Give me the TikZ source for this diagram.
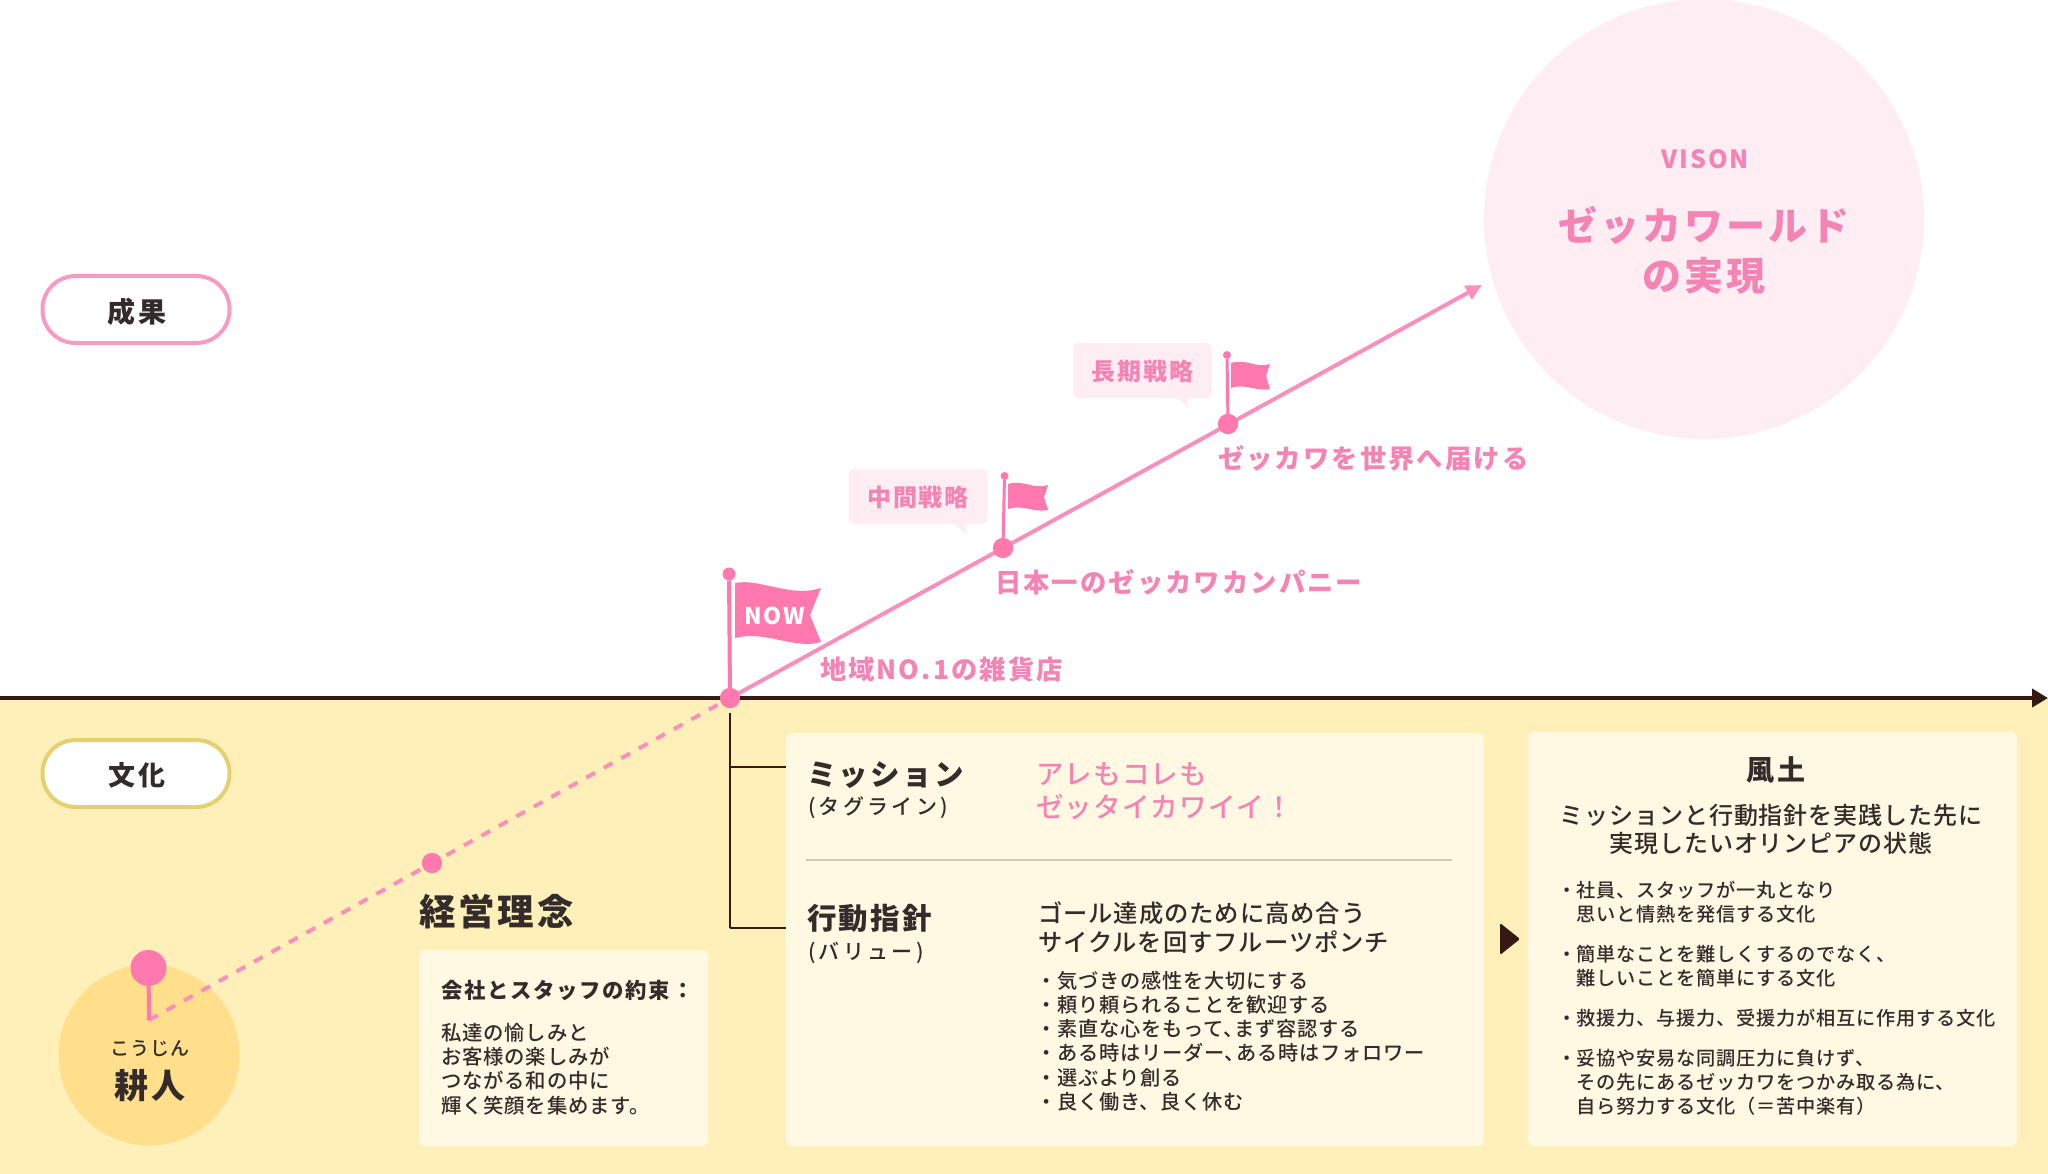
\documentclass[tikz,border=0pt]{standalone}
\usepackage{fontspec}
\usetikzlibrary{arrows.meta}
\newfontfamily\jr[LetterSpace=4]{Noto Sans CJK JP Medium}
\newfontfamily\jb[LetterSpace=8]{Noto Sans CJK JP}
\newfontfamily\jw[LetterSpace=16]{Noto Sans CJK JP Medium}
\newcommand\fs[2]{\fontsize{#1}{#2}\selectfont}
\newcommand\capstrut{\rule{0pt}{.94em}\rule[-.06em]{0pt}{.06em}}
\definecolor{ink}{HTML}{332C2A}
\definecolor{axisc}{HTML}{351A14}
\definecolor{bandc}{HTML}{FFEFB9}
\definecolor{panelc}{HTML}{FFF8E3}
\definecolor{pinkline}{HTML}{F990BC}
\definecolor{pinkdot}{HTML}{FF78AE}
\definecolor{pinktext}{HTML}{F583B3}
\definecolor{pinkpale}{HTML}{FEEDF3}
\definecolor{sunc}{HTML}{FFDF8C}
\definecolor{pillpink}{HTML}{F79BC3}
\definecolor{pillyel}{HTML}{E5D070}
\definecolor{rulec}{HTML}{D0C8B6}
\tikzset{
  tx/.style={inner sep=0pt,outer sep=0pt,anchor=west,text=ink,execute at begin node=\capstrut},
  txc/.style={tx,anchor=center},
  txn/.style={tx,anchor=north west,align=left},
  panel/.style={fill=panelc,rounded corners=6pt,anchor=north west,inner sep=0pt,outer sep=0pt},
  pill/.style={fill=white,draw=#1,line width=4pt,rounded corners=33pt,inner sep=0pt,minimum width=187pt,minimum height=67pt,text=ink},
  dot/.style={circle,fill=pinkdot,inner sep=0pt,outer sep=0pt,minimum size=#1},
  balloon/.style={fill=pinkpale,rounded corners=5pt,inner sep=0pt,outer sep=0pt,minimum width=139pt,minimum height=55pt,text=pinktext},
  pole/.style={draw=pinkdot,line width=3pt},
  main/.style={draw=pinkline,line width=4pt},
  conn/.style={draw=axisc,line width=1.6pt},
}
\begin{document}
\begin{tikzpicture}[x=1pt,y=-1pt]
\useasboundingbox (0,0) rectangle (2048,1174);
\fill[bandc] (0,698) rectangle (2048,1174);
% vision
\node[circle,fill=pinkpale,minimum size=440pt,inner sep=0pt] (vision) at (1704,219) {};
\node[txc,text=pinktext,font=\jb\bfseries\fs{25}{28}] (visont) at (1705,158) {VISON};
\node[txc,text=pinktext,font=\jb\bfseries\fs{39}{50},align=center] (visonm) at (1704,250) {ゼッカワールド\\の実現};
% pills
\node[pill=pillpink,font=\jb\bfseries\fs{28}{30}] (seika) at (136,309.5) {\capstrut\kern2pt\raisebox{-2pt}{成果}};
\node[pill=pillyel,font=\jb\bfseries\fs{27}{30}] (bunka) at (136,773.5) {\capstrut\kern2pt\raisebox{-2pt}{文化}};
% axis
\coordinate (axL) at (0,698);
\coordinate (axR) at (2048,698);
\draw[draw=axisc,line width=4pt,-{Triangle[length=16pt,width=18pt]}] (axL) -- (axR);
% connectors
\coordinate (cTop) at (730,713);
\coordinate (cA) at (730,767);
\coordinate (cB) at (730,928);
% panels
\node[panel,minimum width=289pt,minimum height=196pt] (p1) at (419,950) {};
\node[panel,minimum width=698pt,minimum height=413pt] (p2) at (786,733) {};
\node[panel,minimum width=489pt,minimum height=414pt] (p3) at (1528,732) {};
\draw[conn] (cTop) -- (cB);
\draw[conn] (cA) -- (cA -| p2.west);
\draw[conn] (cB) -- (cB -| p2.west);
\coordinate (divL) at (806,860);
\coordinate (divR) at (1452,860);
\draw[draw=rulec,line width=1.6pt] (divL) -- (divR);
% triangle
\fill[axisc,rounded corners=1.5pt] (1500,923) -- (1520,939) -- (1500,955) -- cycle;
% sun and lines
\node[circle,fill=sunc,minimum size=181pt,inner sep=0pt] (sun) at (149,1055) {};
\coordinate (start) at (149,1020);
\coordinate (tip) at (1482,285);
\node[dot=20pt] (now) at (730,698) {};
\node[dot=20pt] (d1) at (1003,548) {};
\node[dot=20pt] (d2) at (1228,424) {};
\node[dot=20pt] (d0) at (432,863) {};
\node[dot=36pt] (pin) at (148.5,968) {};
\draw[draw=pinkline,line width=4pt,dash pattern=on 10pt off 10pt] (start) -- (now);
\draw[main,-{Triangle[length=16pt,width=15pt]}] (now) -- (tip);
\node[dot=20pt] at (now) {};
\node[dot=20pt] at (d1) {};
\node[dot=20pt] at (d2) {};
\node[dot=20pt] at (d0) {};
\draw[pole,line width=4pt] (pin) -- (start);
% flags
\node[dot=13pt] (b0) at (729,574) {};
\draw[pole,line width=4pt] (b0) -- (now);
\fill[pinkdot] (735,583) .. controls (760,578) and (790,598) .. (821,588) -- (810,615) -- (821,642) .. controls (795,650) and (765,630) .. (735,638) -- cycle;
\node[tx,text=white,font=\jb\bfseries\fs{23}{26}] (nowt) at (744,614) {NOW};
\node[dot=8pt] (b1) at (1004.5,476) {};
\draw[pole] (b1) -- (d1);
\fill[pinkdot] (1008,484) .. controls (1022,479) and (1034,490) .. (1048,485) -- (1044,497) -- (1048,510) .. controls (1034,513) and (1022,504) .. (1008,509) -- cycle;
\node[dot=8pt] (b2) at (1227,355) {};
\draw[pole] (b2) -- (d2);
\fill[pinkdot] (1231,363) .. controls (1245,358) and (1257,369) .. (1270,364) -- (1266,376) -- (1270,389) .. controls (1257,392) and (1245,383) .. (1231,388) -- cycle;
% balloons
\fill[pinkpale] (1175,396) -- (1189,408) -- (1186,396) -- cycle;
\node[balloon,font=\jb\bfseries\fs{24}{28}] (bal2) at (1142.5,370.5) {\capstrut 長期戦略};
\fill[pinkpale] (952,522) -- (967,535) -- (964,522) -- cycle;
\node[balloon,font=\jb\bfseries\fs{24}{28}] (bal1) at (918,496.5) {\capstrut 中間戦略};
% milestone labels
\node[tx,text=pinktext,font=\jb\bfseries\fs{26.3}{30}] (m0) at (820,668) {地域NO.1の雑貨店};
\node[tx,text=pinktext,font=\jb\bfseries\fs{26.3}{30}] (m1) at (995,582) {日本一のゼッカワカンパニー};
\node[tx,text=pinktext,font=\jb\bfseries\fs{26.3}{30}] (m2) at (1218,458) {ゼッカワを世界へ届ける};
% sun text
\node[txc,font=\jr\fs{19}{20}] (kana) at (150,1047) {こうじん};
\node[txc,font=\jb\bfseries\fs{34}{36}] (name) at (150,1084) {耕人};
% philosophy
\node[tx,font=\jb\bfseries\fs{36.5}{40}] (keiei) at (419,910) {経営理念};
\node[tx,font=\jb\bfseries\fs{21.4}{24}] (yaku) at (441,990) {会社とスタッフの約束：};
\node[txn,font=\jr\fs{20.4}{24.3}] (yakub) at (441,1023) {私達の愉しみと\\お客様の楽しみが\\つながる和の中に\\輝く笑顔を集めます。};
% mission
\node[tx,font=\jb\bfseries\fs{29.5}{32}] (mis) at (807,773) {ミッション};
\node[tx,font=\jw\fs{21}{24}] (mis2) at (808,807) {(タグライン)};
\node[txn,text=pinktext,font=\jr\fs{27.6}{33}] (misb) at (1036,762) {アレもコレも\\ゼッタイカワイイ！};
\node[tx,font=\jb\bfseries\fs{29.5}{32}] (val) at (807,917) {行動指針};
\node[tx,font=\jw\fs{21}{24}] (val2) at (808,952) {(バリュー)};
\node[txn,font=\jr\fs{24.3}{29}] (valb) at (1038,902) {ゴール達成のために高め合う\\サイクルを回すフルーツポンチ};
\node[txn,font=\jr\fs{20.2}{24.2}] (vall) at (1036,971) {・気づきの感性を大切にする\\・頼り頼られることを歓迎する\\・素直な心をもって、\kern-9pt まず容認する\\・ある時はリーダー、\kern-9pt ある時はフォロワー\\・選ぶより創る\\・良く働き、良く休む};
% fudo
\node[txc,font=\jb\bfseries\fs{28}{32}] (fudo) at (1776,769) {風土};
\node[txc,font=\jr\fs{24}{28}] (fudo1) at (1771,814) {ミッションと行動指針を実践した先に};
\node[txc,font=\jr\fs{24}{28}] (fudo2) at (1771,842) {実現したいオリンピアの状態};
\node[txn,font=\jr\fs{19.2}{24}] (fudol) at (1557,881) {・社員、スタッフが一丸となり\\　思いと情熱を発信する文化\\[16pt]・簡単なことを難しくするのでなく、\\　難しいことを簡単にする文化\\[16pt]・救援力、与援力、受援力が相互に作用する文化\\[16pt]・妥協や安易な同調圧力に負けず、\\　その先にあるゼッカワをつかみ取る為に、\\　自ら努力する文化（＝苦中楽有）};
\end{tikzpicture}
\end{document}
